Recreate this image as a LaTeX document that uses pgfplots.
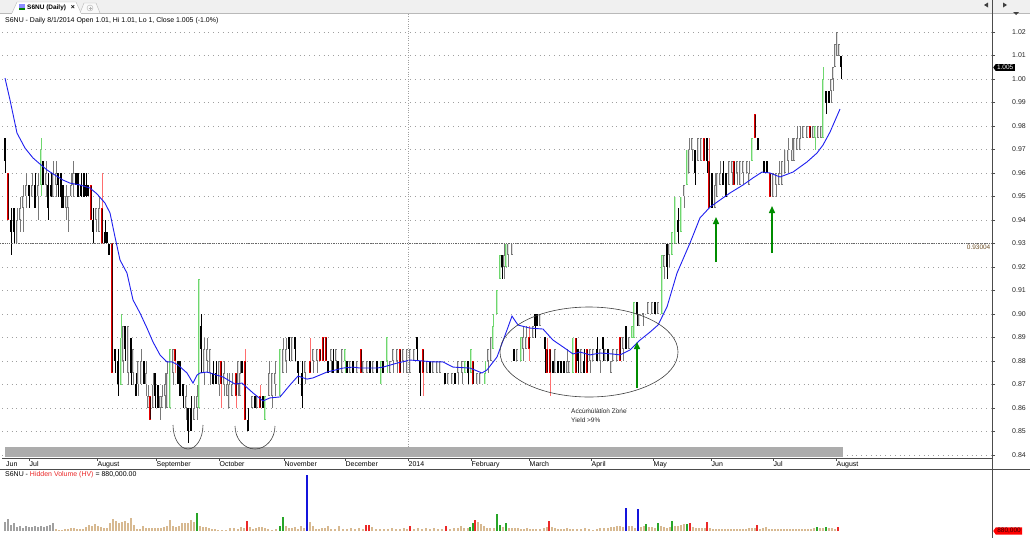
\documentclass[border=0pt]{standalone}
\usepackage{pgfplots}
\usepackage{pgfplotstable}
\pgfplotsset{compat=1.18}
\usepackage{fontspec}
\setmainfont{Liberation Sans}
\usetikzlibrary{arrows.meta,shapes.symbols}

\definecolor{cgray}{RGB}{120,120,120}
\definecolor{cinner}{RGB}{225,225,225}
\definecolor{cred}{RGB}{230,0,0}
\definecolor{cwred}{RGB}{255,110,110}
\definecolor{cdred}{RGB}{70,0,0}
\definecolor{cgreen}{RGB}{110,215,110}
\definecolor{clgreen}{RGB}{200,240,200}
\definecolor{vtan}{RGB}{215,185,145}
\definecolor{vgray}{RGB}{160,160,160}
\definecolor{vgreen}{RGB}{40,165,40}
\definecolor{vred}{RGB}{235,40,40}
\definecolor{vblue}{RGB}{20,20,220}
\definecolor{mablue}{RGB}{30,30,240}
\definecolor{agreen}{RGB}{0,140,0}
\definecolor{lvlbrown}{RGB}{110,80,40}

% x = horizontal position (pixels), bt/bb = body top/bottom, hi/lo = wick, k: 0 up(hollow) 1 down 2 red 3 green
\pgfplotstableread{
x bt bb hi lo k
5 0.975 0.965 0.975 0.960 1
8 0.960 0.940 0.960 0.940 2
11 0.940 0.935 0.945 0.925 1
14 0.945 0.935 0.945 0.930 1
17 0.940 0.930 0.945 0.930 0
20 0.945 0.940 0.950 0.935 0
23 0.950 0.945 0.955 0.935 0
26 0.955 0.950 0.960 0.945 0
29 0.955 0.950 0.955 0.945 1
32 0.955 0.950 0.960 0.950 0
35 0.955 0.945 0.960 0.945 1
38 0.955 0.950 0.960 0.940 0
41 0.970 0.955 0.975 0.950 3
43 0.965 0.955 0.965 0.955 1
46 0.960 0.955 0.965 0.950 0
48 0.955 0.945 0.960 0.940 1
51 0.955 0.950 0.960 0.950 1
53 0.960 0.950 0.965 0.950 0
56 0.960 0.955 0.965 0.950 0
58 0.960 0.955 0.960 0.950 1
61 0.960 0.950 0.960 0.945 1
63 0.955 0.945 0.955 0.945 1
66 0.950 0.945 0.955 0.940 0
68 0.950 0.945 0.950 0.935 0
71 0.955 0.950 0.960 0.950 0
73 0.960 0.955 0.965 0.950 0
76 0.960 0.955 0.960 0.955 1
78 0.960 0.950 0.960 0.950 1
81 0.955 0.950 0.960 0.950 1
84 0.960 0.950 0.960 0.950 1
86 0.955 0.950 0.960 0.950 1
88 0.955 0.950 0.955 0.950 1
91 0.955 0.940 0.955 0.940 2
93 0.940 0.935 0.945 0.930 1
96 0.945 0.940 0.945 0.935 0
99 0.945 0.935 0.950 0.935 0
102 0.945 0.930 0.960 0.930 2
105 0.935 0.930 0.940 0.930 1
107 0.935 0.930 0.935 0.930 1
109 0.930 0.925 0.930 0.925 1
112 0.930 0.875 0.930 0.875 2
115 0.885 0.880 0.885 0.875 1
118 0.880 0.870 0.885 0.865 1
121 0.890 0.870 0.900 0.870 3
123 0.895 0.880 0.895 0.875 0
125 0.895 0.885 0.895 0.880 1
128 0.895 0.875 0.895 0.870 0
131 0.890 0.875 0.890 0.870 1
133 0.885 0.875 0.885 0.870 0
136 0.870 0.865 0.875 0.865 1
138 0.880 0.870 0.880 0.865 0
141 0.880 0.870 0.885 0.870 0
144 0.880 0.870 0.880 0.870 1
146 0.875 0.870 0.880 0.865 0
148 0.865 0.860 0.870 0.860 0
150 0.865 0.855 0.865 0.855 2
153 0.870 0.860 0.875 0.860 0
155 0.875 0.865 0.875 0.860 1
158 0.870 0.860 0.870 0.860 1
160 0.865 0.860 0.865 0.855 0
162 0.865 0.860 0.870 0.860 0
165 0.870 0.865 0.875 0.860 0
167 0.875 0.860 0.880 0.860 0
170 0.885 0.860 0.885 0.860 3
173 0.885 0.875 0.885 0.870 0
175 0.885 0.880 0.885 0.875 2
178 0.880 0.870 0.880 0.870 1
180 0.880 0.865 0.880 0.865 1
183 0.870 0.865 0.870 0.860 1
186 0.865 0.860 0.870 0.855 0
188 0.860 0.850 0.860 0.845 1
191 0.860 0.850 0.865 0.850 1
194 0.860 0.855 0.865 0.855 0
197 0.865 0.860 0.870 0.855 0
199 0.915 0.860 0.915 0.860 3
201 0.895 0.885 0.900 0.875 1
204 0.885 0.875 0.890 0.870 0
207 0.885 0.880 0.890 0.875 0
210 0.885 0.875 0.885 0.870 0
213 0.875 0.870 0.880 0.870 1
216 0.875 0.870 0.880 0.870 1
219 0.880 0.870 0.880 0.865 0
221 0.880 0.870 0.880 0.860 2
224 0.875 0.870 0.880 0.865 0
227 0.870 0.865 0.875 0.865 0
229 0.870 0.860 0.875 0.860 0
232 0.870 0.865 0.875 0.865 0
236 0.875 0.865 0.875 0.860 2
238 0.880 0.870 0.880 0.865 0
240 0.875 0.865 0.880 0.865 0
242 0.880 0.875 0.880 0.875 1
245 0.880 0.855 0.885 0.855 2
248 0.855 0.850 0.860 0.850 1
252 0.865 0.860 0.865 0.860 0
255 0.865 0.860 0.865 0.860 1
257 0.865 0.860 0.865 0.860 0
260 0.865 0.860 0.870 0.860 2
263 0.865 0.860 0.865 0.860 1
265 0.865 0.855 0.865 0.855 3
269 0.875 0.865 0.880 0.865 0
272 0.875 0.865 0.875 0.860 0
275 0.875 0.870 0.880 0.865 0
280 0.885 0.865 0.885 0.865 3
283 0.885 0.875 0.890 0.875 0
286 0.885 0.880 0.890 0.875 0
289 0.890 0.885 0.890 0.880 1
292 0.890 0.880 0.890 0.880 0
295 0.890 0.885 0.890 0.880 1
298 0.880 0.875 0.880 0.870 1
302 0.875 0.865 0.880 0.860 1
305 0.880 0.875 0.880 0.870 0
310 0.880 0.875 0.890 0.875 2
313 0.885 0.880 0.885 0.875 0
317 0.885 0.880 0.885 0.875 0
320 0.885 0.880 0.885 0.880 2
323 0.890 0.880 0.890 0.880 2
326 0.890 0.880 0.890 0.880 2
328 0.880 0.875 0.880 0.875 1
331 0.885 0.880 0.885 0.875 0
333 0.880 0.875 0.885 0.875 1
336 0.885 0.880 0.885 0.875 0
338 0.880 0.875 0.880 0.875 1
342 0.885 0.875 0.885 0.875 0
345 0.885 0.880 0.885 0.875 3
347 0.880 0.875 0.880 0.875 1
350 0.880 0.875 0.880 0.875 0
353 0.880 0.875 0.880 0.875 1
357 0.880 0.875 0.880 0.875 0
361 0.885 0.875 0.885 0.875 2
363 0.880 0.875 0.880 0.875 0
367 0.880 0.875 0.880 0.875 0
370 0.880 0.875 0.880 0.875 1
373 0.880 0.875 0.880 0.875 0
377 0.880 0.875 0.880 0.875 1
381 0.880 0.870 0.880 0.870 3
383 0.880 0.875 0.880 0.875 1
387 0.890 0.880 0.890 0.875 3
390 0.880 0.875 0.880 0.875 0
393 0.885 0.880 0.885 0.875 0
397 0.885 0.880 0.885 0.875 0
400 0.885 0.875 0.885 0.875 2
403 0.885 0.880 0.885 0.875 0
407 0.885 0.875 0.885 0.875 0
410 0.885 0.875 0.885 0.875 0
414 0.885 0.880 0.885 0.880 0
417 0.890 0.885 0.890 0.880 1
420 0.880 0.875 0.880 0.865 1
423 0.885 0.875 0.885 0.865 2
427 0.880 0.875 0.880 0.875 0
430 0.880 0.875 0.880 0.875 1
433 0.880 0.875 0.880 0.875 0
437 0.880 0.875 0.880 0.875 0
440 0.880 0.875 0.880 0.875 0
445 0.875 0.870 0.875 0.870 1
448 0.875 0.870 0.875 0.870 0
452 0.875 0.870 0.875 0.870 0
455 0.875 0.870 0.875 0.870 1
458 0.880 0.875 0.880 0.870 0
462 0.880 0.875 0.880 0.870 0
465 0.880 0.875 0.880 0.875 3
468 0.880 0.875 0.880 0.870 1
471 0.885 0.875 0.885 0.875 3
473 0.880 0.870 0.880 0.870 2
477 0.875 0.870 0.875 0.870 0
480 0.875 0.870 0.875 0.870 0
485 0.875 0.870 0.880 0.870 3
488 0.885 0.880 0.885 0.875 0
491 0.890 0.880 0.890 0.880 0
493 0.895 0.885 0.900 0.885 3
497 0.910 0.900 0.910 0.900 3
500 0.925 0.915 0.925 0.915 3
502 0.925 0.920 0.925 0.915 1
504 0.925 0.920 0.930 0.915 0
506 0.930 0.920 0.930 0.920 3
508 0.930 0.925 0.930 0.920 0
512 0.930 0.925 0.930 0.925 0
514 0.885 0.880 0.885 0.880 1
517 0.885 0.880 0.885 0.880 0
521 0.890 0.880 0.890 0.880 3
523 0.890 0.885 0.895 0.880 0
526 0.890 0.885 0.895 0.885 0
529 0.890 0.885 0.895 0.880 2
533 0.895 0.890 0.895 0.890 0
535 0.900 0.895 0.900 0.890 1
537 0.900 0.895 0.900 0.895 1
540 0.900 0.895 0.900 0.895 0
545 0.890 0.885 0.890 0.875 1
547 0.885 0.875 0.890 0.875 2
550 0.885 0.875 0.885 0.865 2
553 0.880 0.875 0.880 0.875 1
555 0.885 0.875 0.885 0.875 0
558 0.880 0.875 0.880 0.875 1
561 0.880 0.875 0.880 0.875 1
564 0.880 0.875 0.880 0.875 1
567 0.880 0.875 0.885 0.875 0
569 0.880 0.875 0.880 0.875 0
573 0.890 0.875 0.890 0.875 3
576 0.890 0.875 0.890 0.875 2
578 0.885 0.880 0.885 0.875 1
581 0.885 0.875 0.885 0.875 0
584 0.880 0.875 0.885 0.875 1
587 0.885 0.875 0.885 0.875 2
590 0.885 0.880 0.885 0.875 0
593 0.885 0.880 0.885 0.880 0
597 0.885 0.880 0.890 0.880 1
600 0.885 0.880 0.885 0.875 0
603 0.890 0.885 0.890 0.880 1
605 0.885 0.880 0.885 0.880 0
608 0.885 0.880 0.885 0.880 1
611 0.880 0.875 0.880 0.875 0
613 0.885 0.880 0.885 0.880 0
617 0.885 0.880 0.885 0.880 0
620 0.890 0.880 0.890 0.880 2
623 0.890 0.885 0.890 0.880 0
626 0.895 0.885 0.895 0.885 1
629 0.890 0.885 0.890 0.885 0
632 0.895 0.890 0.895 0.890 3
634 0.905 0.890 0.905 0.890 3
637 0.905 0.900 0.905 0.895 1
639 0.900 0.895 0.900 0.895 0
643 0.900 0.900 0.900 0.895 0
648 0.905 0.900 0.905 0.900 0
652 0.905 0.900 0.905 0.900 0
655 0.905 0.900 0.905 0.900 1
658 0.905 0.900 0.905 0.900 0
662 0.925 0.900 0.925 0.900 3
664 0.925 0.920 0.925 0.915 0
667 0.930 0.920 0.930 0.915 1
669 0.930 0.925 0.930 0.920 0
672 0.935 0.925 0.935 0.925 3
675 0.950 0.930 0.950 0.930 3
678 0.940 0.935 0.945 0.930 1
681 0.950 0.935 0.950 0.935 3
684 0.955 0.950 0.955 0.945 0
687 0.970 0.955 0.970 0.955 3
689 0.970 0.960 0.975 0.960 0
692 0.975 0.970 0.975 0.965 0
695 0.970 0.960 0.970 0.955 1
698 0.975 0.965 0.975 0.965 0
701 0.975 0.965 0.975 0.965 0
704 0.975 0.965 0.975 0.965 2
707 0.975 0.965 0.975 0.960 1
709 0.965 0.945 0.975 0.945 2
712 0.960 0.945 0.960 0.945 1
715 0.955 0.945 0.960 0.945 0
717 0.960 0.950 0.960 0.950 0
720 0.960 0.955 0.965 0.955 0
723 0.960 0.955 0.965 0.955 1
726 0.960 0.950 0.960 0.950 1
729 0.965 0.955 0.965 0.955 0
732 0.965 0.960 0.965 0.955 0
734 0.965 0.955 0.965 0.955 2
737 0.965 0.960 0.965 0.955 0
740 0.965 0.955 0.965 0.955 0
743 0.965 0.960 0.965 0.955 0
747 0.965 0.960 0.965 0.960 0
749 0.960 0.955 0.965 0.955 0
752 0.975 0.965 0.975 0.965 3
755 0.985 0.975 0.985 0.975 2
758 0.975 0.970 0.975 0.970 1
764 0.965 0.960 0.965 0.960 1
767 0.965 0.960 0.965 0.960 1
770 0.960 0.950 0.960 0.950 2
773 0.960 0.950 0.960 0.950 0
776 0.960 0.955 0.960 0.950 0
779 0.960 0.955 0.965 0.955 0
782 0.965 0.955 0.965 0.955 0
785 0.970 0.960 0.970 0.960 0
788 0.970 0.965 0.975 0.960 0
792 0.970 0.965 0.975 0.965 0
794 0.975 0.965 0.975 0.965 0
797 0.975 0.970 0.980 0.970 0
800 0.975 0.970 0.980 0.970 0
803 0.980 0.975 0.980 0.975 0
807 0.980 0.975 0.980 0.975 0
810 0.980 0.975 0.980 0.975 2
813 0.980 0.975 0.980 0.975 0
815 0.980 0.975 0.980 0.970 3
818 0.980 0.975 0.980 0.975 0
821 0.980 0.975 0.980 0.975 0
823 1.000 0.975 1.005 0.975 3
826 0.995 0.990 0.995 0.985 1
829 0.995 0.990 0.995 0.990 1
831 1.000 0.995 1.000 0.990 0
833 1.005 1.000 1.005 0.995 0
835 1.015 1.005 1.015 1.005 0
837 1.020 1.010 1.020 1.010 0
839 1.015 1.010 1.015 1.010 0
841 1.010 1.005 1.010 1.000 1
}\candles

% volume (pixel height units), k: 0 gray 1 tan 2 green 3 red 4 blue
\pgfplotstableread{
x v k
5 9 0
8 12 0
11 6 0
14 8 0
17 4 0
20 5 0
23 3 0
26 5 0
29 4 0
32 4 0
35 5 0
38 4 0
41 5 0
44 4 0
47 5 0
50 6 0
53 8 0
56 2 1
59 1 1
62 1 1
65 2 1
68 2 1
71 3 1
74 3 1
77 2 1
80 2 1
83 2 1
86 4 1
89 6 1
92 5 1
95 7 1
98 5 1
101 4 1
104 3 1
107 3 1
110 8 1
113 12 1
116 10 1
119 8 1
122 9 1
125 10 1
128 8 1
131 13 1
134 6 1
137 2 1
140 2 1
143 5 1
146 3 1
149 3 1
152 3 1
155 3 1
158 3 1
161 3 1
164 4 1
167 5 1
170 11 1
173 5 1
176 4 1
179 5 1
182 8 1
185 8 1
188 8 1
191 11 1
194 9 1
197 18 2
200 5 1
203 4 1
206 4 1
209 3 1
212 2 1
215 2 1
218 1 1
222 1 1
226 1 1
230 3 1
234 3 1
238 2 1
241 4 1
244 3 1
247 10 3
250 4 1
253 2 1
256 3 1
259 4 1
262 4 1
265 3 1
268 2 1
272 1 1
276 2 1
280 5 2
283 14 2
286 5 1
289 3 1
292 3 1
295 4 1
298 2 1
301 5 1
304 3 1
307 56 4
310 9 1
313 5 1
316 2 1
319 2 1
322 3 1
325 3 1
328 5 1
331 2 1
335 2 1
339 5 1
343 2 1
347 2 1
351 3 1
355 2 1
359 3 1
363 2 1
366 6 3
369 6 3
372 4 1
376 2 1
380 2 1
384 2 1
388 2 1
392 3 1
396 2 1
400 2 1
404 3 1
407 2 1
410 5 3
414 2 1
418 3 1
422 2 1
426 3 1
430 2 1
434 3 1
438 2 1
442 2 1
446 5 3
450 2 1
454 3 1
458 3 1
461 5 1
464 3 1
468 3 1
470 4 2
473 8 2
475 11 3
478 9 1
481 7 1
484 5 1
487 3 1
490 3 1
494 3 1
497 17 2
500 6 2
503 4 1
506 8 2
509 3 1
512 3 1
515 3 1
518 3 1
521 2 1
524 2 1
527 3 1
530 2 1
533 2 1
536 2 1
540 2 1
544 3 1
547 4 1
549 10 3
552 4 1
555 3 1
558 2 1
561 2 1
564 2 1
567 3 1
570 2 1
573 2 1
577 2 1
581 2 1
585 3 1
589 2 1
593 1 1
597 2 1
600 3 1
604 3 1
608 3 1
611 4 1
614 4 1
617 5 1
620 5 1
623 4 1
626 23 4
629 5 1
632 5 1
635 3 1
638 22 4
641 4 1
644 5 1
646 7 2
649 4 1
652 4 1
655 3 1
658 8 2
661 5 1
664 4 1
667 3 1
670 4 1
672 10 2
675 5 1
678 5 1
681 6 1
684 7 1
687 7 2
690 8 3
693 4 1
696 3 1
699 3 1
702 3 1
705 3 1
707 9 3
710 3 1
713 2 1
716 2 1
719 2 1
722 2 1
725 2 1
728 2 1
731 2 1
734 2 1
737 2 1
740 2 1
743 2 1
746 2 1
749 3 1
752 3 1
755 3 1
757 6 3
760 2 1
763 3 1
766 4 1
769 2 1
772 2 1
775 2 1
778 2 1
781 2 1
784 2 1
787 2 1
790 2 1
793 2 1
796 2 1
799 2 1
802 2 1
805 2 1
808 2 1
811 2 1
814 3 1
817 4 2
820 3 1
823 3 1
826 4 2
829 3 1
832 3 1
835 2 1
838 4 3
}\volumes

\pgfplotsset{
  wick/.style={draw=none, mark=none, error bars/.cd, y dir=both, y explicit, error mark=none,
     error bar style={line width=0.6bp, draw=#1, solid}},
  body/.style={draw=none, mark=none, error bars/.cd, y dir=both, y explicit, error mark=none,
     error bar style={line width=2.6bp, draw=#1, solid}},
  inner/.style={draw=none, mark=none, error bars/.cd, y dir=both, y explicit, error mark=none,
     error bar style={line width=0.8bp, draw=#1, solid}},
}
\newcommand{\wickplot}[2]{\addplot[restrict expr to domain={\thisrow{k}}{#1:#1}, wick=#2] table[x=x, y expr={(\thisrow{hi}+\thisrow{lo})/2}, y error expr={(\thisrow{hi}-\thisrow{lo})/2}] {\candles};}
\newcommand{\bodyplot}[2]{\addplot[restrict expr to domain={\thisrow{k}}{#1:#1}, body=#2] table[x=x, y expr={(\thisrow{bt}+\thisrow{bb})/2}, y error expr={max(abs(\thisrow{bt}-\thisrow{bb})/2,0.0003)}] {\candles};}
\newcommand{\innerplot}[2]{\addplot[restrict expr to domain={\thisrow{k}}{#1:#1}, inner=#2] table[x=x, y expr={(\thisrow{bt}+\thisrow{bb})/2}, y error expr={max(abs(\thisrow{bt}-\thisrow{bb})/2-0.0004,0)}] {\candles};}
\newcommand{\volplot}[2]{\addplot[restrict expr to domain={\thisrow{k}}{#1:#1}, ycomb, draw=#2, line width=1.3bp, mark=none] table[x=x, y=v] {\volumes};}

\begin{document}
\begin{tikzpicture}[font=\fontsize{7}{8}\selectfont]
\path[use as bounding box] (0,0) rectangle (1030bp,-538bp);
\fill[white] (0,0) rectangle (1030bp,-538bp);

% tab bar
\fill[gray!12] (0,0) rectangle (1030bp,-13bp);
\draw[gray!55] (0,-13bp) -- (12bp,-13bp);
\draw[gray!55] (81bp,-13bp) -- (1030bp,-13bp);
\draw[gray!55, fill=white] (12bp,-13bp) -- (17bp,-2bp) -- (76bp,-2bp) -- (81bp,-13bp);
\fill[blue!45] (18.5bp,-4bp) rectangle (25bp,-10bp);
\fill[green!50!black] (18.5bp,-8bp) rectangle (25bp,-10bp);
\node[anchor=west, inner sep=0pt, font=\bfseries\fontsize{6.5}{7}\selectfont] at (27bp,-7.5bp) {S6NU (Daily)};
\node[inner sep=0pt, font=\bfseries\fontsize{7}{7}\selectfont] at (73bp,-7.5bp) {×};
\draw[gray!55, fill=gray!5] (80bp,-13bp) -- (84bp,-3bp) -- (96bp,-3bp) -- (100bp,-13bp);
\draw[gray!60] (90bp,-8bp) circle (3bp);
\draw[gray!60] (88.5bp,-8bp) -- (91.5bp,-8bp) (90bp,-6.5bp) -- (90bp,-9.5bp);
\fill[black!75] (984bp,-5bp) -- (988bp,-2.5bp) -- (988bp,-7.5bp) -- cycle;
\fill[black!75] (1007bp,-5bp) -- (1003bp,-2.5bp) -- (1003bp,-7.5bp) -- cycle;
\fill[black!75] (1013bp,-12bp) -- (1019bp,-12bp) -- (1016bp,-15bp) -- cycle;

% title
\node[anchor=west, inner sep=0pt] at (5bp,-20.5bp) {S6NU - Daily 8/1/2014 Open 1.01, Hi 1.01, Lo 1, Close 1.005 (-1.0\%)};

% ---------------- price panel ----------------
\begin{axis}[
  at={(2bp,-458bp)}, anchor=south west,
  scale only axis, width=990bp, height=444bp,
  xmin=2, xmax=992, ymin=0.83872, ymax=1.02766,
  axis x line*=bottom, axis y line*=right,
  axis line style={draw=black!70, line width=0.6bp},
  xtick={29,97,156,219,284,345,408,471,529,591,653,711,773,836},
  xticklabels={Jul,August,September,October,November,December,2014,February,March,April,May,Jun,Jul,August},
  xticklabel style={anchor=north west, inner sep=0pt, xshift=0.5bp, yshift=-0.5bp},
  ytick={0.84,0.85,0.86,0.87,0.88,0.89,0.90,0.91,0.92,0.93,0.94,0.95,0.96,0.97,0.98,0.99,1.00,1.01,1.02},
  /pgf/number format/assume math mode=true,
  yticklabel style={anchor=west, inner sep=0pt, xshift=17bp, text=black!85, /pgf/number format/.cd, fixed, fixed zerofill, precision=2},
  tick align=outside, major tick length=3bp,
  tick style={draw=black!70, line width=0.5bp},
  ymajorgrids, grid style={draw=gray!75, line width=0.5bp, dash pattern=on 0.8bp off 4bp},
  clip=false,
]
% wicks
\wickplot{0}{cgray}
\wickplot{1}{black}
\wickplot{2}{cwred}
\wickplot{3}{cgreen}
% bodies
\bodyplot{0}{cgray}
\bodyplot{1}{black}
\bodyplot{2}{cred}
\bodyplot{3}{cgreen}
\innerplot{0}{cinner}
\innerplot{2}{cdred}
\innerplot{3}{clgreen}
% moving average
\addplot[mablue, line width=0.9bp, mark=none] coordinates {
(5,1.0004) (10,0.9911) (17,0.9770) (25,0.9706) (33,0.9664) (40,0.9638) (47,0.9613)
(55,0.9591) (63,0.9570) (70,0.9557) (80,0.9549) (90,0.9536) (97,0.9511) (105,0.9472)
(110,0.9430) (115,0.9328) (120,0.9230) (127,0.9174) (133,0.9060) (140,0.9004)
(147,0.8940) (153,0.8881) (160,0.8826) (167,0.8796) (172,0.8796) (178,0.8783)
(187,0.8749) (193,0.8706) (197,0.8740) (200,0.8749) (207,0.8753) (213,0.8745)
(223,0.8732) (235,0.8702) (242,0.8706) (253,0.8664) (263,0.8630) (270,0.8643)
(280,0.8647) (290,0.8698) (298,0.8736) (307,0.8723) (313,0.8728) (327,0.8753)
(343,0.8770) (353,0.8774) (360,0.8770) (377,0.8770) (383,0.8774) (397,0.8791)
(410,0.8804) (423,0.8800) (433,0.8796) (443,0.8796) (453,0.8774) (470,0.8770)
(482,0.8749) (487,0.8762) (497,0.8817) (507,0.8932) (512,0.8991) (518,0.8953)
(530,0.8940) (543,0.8936) (553,0.8889) (563,0.8860) (573,0.8830) (580,0.8838)
(590,0.8826) (600,0.8834) (612,0.8830) (620,0.8826) (630,0.8847) (640,0.8889)
(650,0.8923) (658,0.8953) (667,0.9030) (677,0.9174) (690,0.9302) (700,0.9409)
(710,0.9455) (720,0.9485) (730,0.9515) (743,0.9549) (753,0.9579) (762,0.9604)
(770,0.9600) (780,0.9583) (793,0.9604) (807,0.9647) (817,0.9685) (823,0.9719)
(830,0.9774) (840,0.9872)
};
\end{axis}

% level line 0.93 and label
\draw[black!60, line width=0.5bp, dash pattern=on 1.3bp off 1bp] (0,-243.5bp) -- (992bp,-243.5bp);
\node[anchor=north east, inner sep=0.5pt, text=lvlbrown, font=\fontsize{6.5}{7}\selectfont] at (991bp,-244bp) {0.93004};
% year separator
\draw[gray!75, line width=0.5bp, dash pattern=on 0.8bp off 1.6bp] (408bp,-14bp) -- (408bp,-458bp);
% scroll bar
\fill[gray!65] (5bp,-447bp) rectangle (843bp,-457bp);
% date strip
\node[anchor=west, inner sep=0pt] at (6bp,-464.5bp) {Jun};
\draw[black!70, line width=0.8bp] (0,-469bp) -- (1030bp,-469bp);
% right axis line full height
\draw[black!70, line width=0.6bp] (992bp,0) -- (992bp,-538bp);

% annotations
\draw[black!75, line width=0.6bp] (589bp,-352bp) ellipse [x radius=89bp, y radius=45bp];
\draw[black!75, line width=0.6bp] (173bp,-425bp) arc[start angle=180, end angle=360, x radius=15bp, y radius=24bp];
\draw[black!75, line width=0.6bp] (235bp,-426bp) arc[start angle=180, end angle=360, x radius=20bp, y radius=23bp];
\node[anchor=west, inner sep=0pt, align=left, text=black!85, font=\fontsize{6.5}{8.5}\selectfont] at (571bp,-415.5bp) {Accumulation Zone\\Yield >9\%};
\draw[agreen, line width=1.4bp, -{Triangle[length=7bp,width=6bp]}] (637bp,-388bp) -- (637bp,-342bp);
\draw[agreen, line width=1.4bp, -{Triangle[length=7bp,width=6bp]}] (716bp,-262bp) -- (716bp,-217bp);
\draw[agreen, line width=1.4bp, -{Triangle[length=7bp,width=6bp]}] (772bp,-253bp) -- (772bp,-206bp);

% price tag
\node[signal, signal to=west, signal pointer angle=110, fill=black, text=white, inner xsep=1.5bp, inner ysep=1bp, anchor=west, font=\fontsize{6.5}{7}\selectfont] at (993bp,-67.5bp) {1.005};

% ---------------- volume panel ----------------
\node[anchor=west, inner sep=0pt] at (5bp,-474.5bp) {S6NU - \textcolor{vred}{Hidden Volume (HV)} = 880,000.00};
\begin{axis}[
  at={(2bp,-531bp)}, anchor=south west,
  scale only axis, width=990bp, height=61bp,
  xmin=2, xmax=992, ymin=0, ymax=61,
  hide axis, clip=false,
]
\volplot{0}{vgray}
\volplot{1}{vtan}
\volplot{2}{vgreen}
\volplot{3}{vred}
\volplot{4}{vblue}
\end{axis}
\node[signal, signal to=west, signal pointer angle=110, fill=red, text=black!80!red, inner xsep=1.5bp, inner ysep=1bp, anchor=west, font=\fontsize{6.5}{7}\selectfont] at (993bp,-531bp) {880,000};
\end{tikzpicture}
\end{document}
